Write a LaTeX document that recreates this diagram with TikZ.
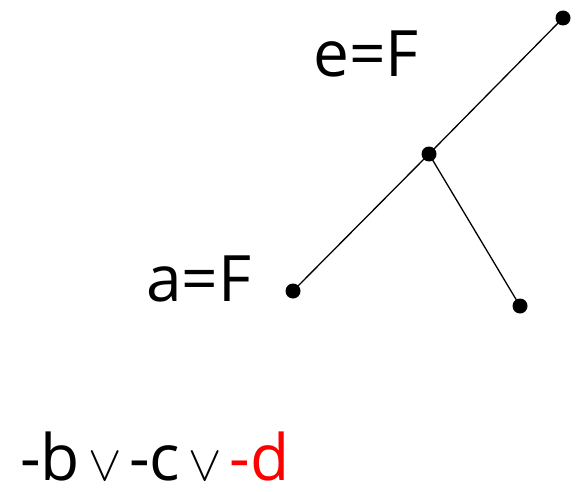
\documentclass[tikz,border=0pt]{standalone}
\usepackage{fontspec}
\setmainfont{Open Sans}
\usepackage{tikz}
\usetikzlibrary{positioning}
\definecolor{litred}{HTML}{FF0000}
\newcommand{\orsym}{\kern8pt\scalebox{5}{\normalsize$\vee$}\kern8pt}

\begin{document}
\begin{tikzpicture}[x=1pt,y=1pt,font=\fontsize{64}{70}\selectfont,
  pt/.style={circle,fill=black,inner sep=0pt,minimum size=15pt},
  lbl/.style={inner sep=0pt,anchor=base west}]
  \useasboundingbox (0,0) rectangle (577,491);
  % tree
  \foreach \n/\x/\y in {top/563/473, mid/429/337, leaf/293/200, low/520/185} {\node[pt] (\n) at (\x,\y) {};}
  \draw[line width=1.3pt] (leaf.center) -- (mid.center) -- (top.center);
  \draw[line width=1.3pt] (mid.center) -- (low.center);
  % labels
  \node[lbl] (eF) at (313,414) {e=F};
  \node[lbl] (aF) at (146,190) {a=F};
  \node[lbl] (clause) at (20,11) {-b\orsym-c\orsym\textcolor{litred}{-d}};
\end{tikzpicture}
\end{document}
